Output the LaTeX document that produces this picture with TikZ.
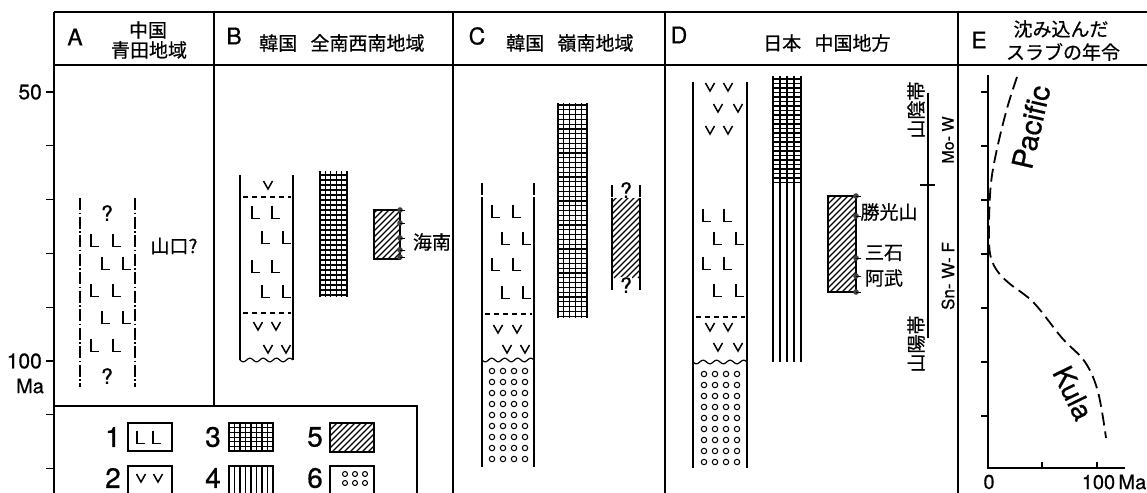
\documentclass[tikz,border=0pt]{standalone}
\usepackage{fontspec}
\setmainfont{TeX Gyre Heros}[FakeBold=0.6]
\newfontfamily\jp{Noto Sans CJK JP}[FakeBold=0.6]
\tikzset{
  frameline/.style={line width=1.5pt},
  colline/.style={line width=1.2pt},
  gridl/.style={line width=1.15pt},
  ddot/.style={line width=1.2pt, dash pattern=on 12pt off 2.5pt on 1.5pt off 2.5pt},
  dsh/.style={line width=1.1pt, dash pattern=on 5pt off 4pt},
  hatchl/.style={line width=1.1pt},
  curve/.style={line width=1.8pt, dash pattern=on 13pt off 6pt},
  jlbl/.style={inner sep=0pt, font=\fontsize{19}{19}\selectfont\jp},
  lat/.style={inner sep=0pt, font=\fontsize{21}{21}\selectfont},
  big/.style={inner sep=0pt, font=\fontsize{28}{28}\selectfont},
  Lsym/.pic={\draw[line width=1.6pt] (-4,-6.5) -- (-4,6.5) -- (4,6.5);},
  vsym/.pic={\draw[line width=1.5pt] (-4.5,-4) -- (0,4) -- (4.5,-4);},
}
\newcommand\hatchrect[4]{%
  \begin{scope}
    \clip (#1,#2) rectangle (#3,#4);
    \foreach \k in {-130,-124,...,60} \draw[hatchl] (#1+\k,#4) -- ++(160,-160);
  \end{scope}}
\newcommand\pinmark[2]{\fill[black!75] (#1,#2) circle (2.8); \draw[line width=1pt] (#1,#2) -- ++(5,0);}

\begin{document}
\begin{tikzpicture}[x=1pt,y=-1pt]
\clip (0,0) rectangle (1147,492);
\fill[white] (0,0) rectangle (1147,492);

% ---------- frame ----------
\draw[frameline] (54,12) -- (1147,12);
\draw[frameline] (54,65) -- (1147,65);
\draw[frameline] (54,12) -- (54,495);
\draw[frameline] (214,12) -- (214,406);
\draw[frameline] (453,12) -- (453,495);
\draw[frameline] (665,12) -- (665,495);
\draw[frameline] (958,12) -- (958,495);

% axis ticks
\foreach \t in {92,145.8,199.6,253.4,307.2,361,414.8,468.6} \draw[colline] (46,\t) -- (54,\t);
\node[lat, anchor=east] (t50) at (42,92) {50};
\node[lat, anchor=east] (t100) at (42,361) {100};
\node[lat, font=\fontsize{20}{20}\selectfont] (tma) at (30,386) {Ma};

% ---------- headers ----------
\node[lat, font=\fontsize{23}{23}\selectfont] (hA) at (75,37) {A};
\node[jlbl] (hA1) at (148,30) {中国};
\node[jlbl] (hA2) at (149,50) {青田地域};
\node[lat, font=\fontsize{23}{23}\selectfont] (hB) at (234,36) {B};
\node[jlbl, anchor=west] (hB1) at (259,43) {韓国\hspace{0.7em}全南西南地域};
\node[lat, font=\fontsize{23}{23}\selectfont] (hC) at (477,36) {C};
\node[jlbl, anchor=west] (hC1) at (506,43) {韓国\hspace{0.7em}嶺南地域};
\node[lat, font=\fontsize{23}{23}\selectfont] (hD) at (679,35) {D};
\node[jlbl, anchor=west] (hD1) at (763,43) {日本\hspace{0.7em}中国地方};
\node[lat, font=\fontsize{23}{23}\selectfont] (hE) at (979,40) {E};
\node[jlbl] (hE1) at (1061,29) {沈み込んだ};
\node[jlbl] (hE2) at (1063,52) {スラブの年令};

% ---------- column A ----------
\draw[ddot] (80,198) -- (80,387);
\draw[ddot] (135,198) -- (135,387);
\node[lat] (qa1) at (107,213) {?};
\node[lat] (qa2) at (107,376) {?};
\foreach \y in {240,290,345} {\pic at (95,\y) {Lsym}; \pic at (117,\y) {Lsym};}
\foreach \y in {263,317} {\pic at (106,\y) {Lsym}; \pic at (127,\y) {Lsym};}
\node[jlbl] (yamaguchi) at (174,246) {山口?};

% ---------- column B ----------
\draw[colline] (240,175) -- (240,360);
\draw[colline] (293,175) -- (293,360);
\draw[colline] plot[domain=0:1, samples=60] ({240+53*\x},{360+1.8*sin(\x*4*360)});
\pic at (268,185) {vsym};
\draw[dsh] (243,197) -- (291,197);
\foreach \y in {212,266} {\pic at (256,\y) {Lsym}; \pic at (276,\y) {Lsym};}
\foreach \y in {237,291} {\pic at (266,\y) {Lsym}; \pic at (287,\y) {Lsym};}
\draw[dsh] (243,313) -- (291,313);
\pic at (258,326) {vsym}; \pic at (276,326) {vsym};
\pic at (268,349) {vsym}; \pic at (286,349) {vsym};
% grid B
\foreach \i in {0,...,5} \draw[gridl] (320+\i*5.4,171) -- (320+\i*5.4,297);
\foreach \y in {175,180,...,297} \draw[gridl] (320,\y) -- (347,\y);
% hatched B
\hatchrect{374}{210}{400}{259}
\draw[colline] (374,210) rectangle (400,259);
\pinmark{400}{210}\pinmark{400}{223}\pinmark{400}{238}\pinmark{400}{250}\pinmark{400}{257}
\node[jlbl] (hainan) at (432,242) {海南};

% ---------- column C ----------
\draw[ddot] (482,183) -- (482,198);
\draw[ddot] (534,183) -- (534,198);
\draw[colline] (482,197) -- (482,467);
\draw[colline] (534,197) -- (534,467);
\foreach \y in {211,264} {\pic at (496,\y) {Lsym}; \pic at (517,\y) {Lsym};}
\foreach \y in {238,292} {\pic at (506,\y) {Lsym}; \pic at (527,\y) {Lsym};}
\draw[dsh] (485,314) -- (532,314);
\pic at (498,329) {vsym}; \pic at (517,329) {vsym};
\pic at (507,349) {vsym}; \pic at (525,349) {vsym};
\draw[colline] plot[domain=0:1, samples=60] ({482+52*\x},{360+1.8*sin(\x*4*360)});
\foreach \x in {492,503,514,525} \foreach \y in {371,382,...,460} \draw[line width=1.05pt] (\x,\y) circle (2.7);
% grid C
\foreach \i in {0,...,5} \draw[gridl] (558+\i*5.8,103) -- (558+\i*5.8,318);
\foreach \y in {105,109.8,...,318} \draw[gridl] (558,\y) -- (587,\y);
% hatched C
\hatchrect{612}{198}{640}{278}
\draw[colline] (612,198) -- (612,278);
\draw[colline] (640,198) -- (640,278);
\draw[ddot] (612,185) -- (612,198); \draw[ddot] (640,185) -- (640,198);
\draw[ddot] (612,278) -- (612,291); \draw[ddot] (640,278) -- (640,291);
\node[lat, fill=white, inner sep=0.5pt] (qc1) at (626,190) {?};
\node[lat, fill=white, inner sep=0.5pt] (qc2) at (626,285) {?};

% ---------- column D ----------
\draw[colline] (693,82) -- (693,468);
\draw[colline] (747,82) -- (747,468);
\foreach \y in {87,130} {\pic at (710,\y) {vsym}; \pic at (728,\y) {vsym};}
\pic at (718,108) {vsym}; \pic at (738,108) {vsym};
\foreach \y in {215,263} {\pic at (707,\y) {Lsym}; \pic at (728,\y) {Lsym};}
\foreach \y in {238,290} {\pic at (718,\y) {Lsym}; \pic at (740,\y) {Lsym};}
\draw[dsh] (696,317) -- (745,317);
\pic at (710,327) {vsym}; \pic at (728,327) {vsym};
\pic at (718,347) {vsym}; \pic at (738,347) {vsym};
\draw[colline] plot[domain=0:1, samples=60] ({693+54*\x},{362+1.8*sin(\x*4*360)});
\foreach \x in {704,715,726,737} \foreach \y in {374,385,...,463} \draw[line width=1.05pt] (\x,\y) circle (2.7);
% grid / lines D
\foreach \i in {0,...,4} \draw[gridl] (773+\i*7,76) -- (773+\i*7,362);
\foreach \y in {79,83.5,...,186} \draw[gridl] (773,\y) -- (801,\y);
% hatched D
\hatchrect{828}{196}{856}{292}
\draw[colline] (828,196) rectangle (856,292);
\pinmark{856}{196}\pinmark{856}{216}\pinmark{856}{258}\pinmark{856}{276}\pinmark{856}{292}
\node[jlbl] (katsu) at (889,212) {勝光山};
\node[jlbl] (mitsu) at (884,253) {三石};
\node[jlbl] (abu) at (884,278) {阿武};
% belts
\draw[colline] (928,93) -- (928,338);
\draw[colline] (920,185) -- (935,185);
\node[jlbl, rotate=90] (sanin) at (916,110) {山陰帯};
\node[jlbl, rotate=90] (sanyo) at (916,344) {山陽帯};
\node[lat, rotate=90, font=\fontsize{16}{16}\selectfont] (mow) at (948,140) {Mo- W};
\node[lat, rotate=90, font=\fontsize{17}{17}\selectfont] (snwf) at (948,276) {Sn- W- F};

% ---------- column E ----------
\draw[colline] (988,75) -- (988,468) -- (1125,468);
\foreach \t in {92,146,200,254,308,362,416} \draw[colline] (981,\t) -- (988,\t);
\draw[colline] (1042,468) -- (1042,462);
\draw[colline] (1097,468) -- (1097,462);
\node[lat, font=\fontsize{20}{20}\selectfont] (e0) at (989,482) {0};
\node[lat, font=\fontsize{20}{20}\selectfont] (e100) at (1114,482) {100\,Ma};
\draw[curve] plot[smooth, tension=0.6] coordinates {(1017,77) (1008,105) (999,140) (992,175) (989.5,205) (989,240) (991,258) (998,272) (1010,284) (1034,303) (1062,338) (1085,362) (1098,392) (1106,438)};
\node[lat, rotate=77, font=\fontsize{29}{29}\selectfont] (pac) at (1031,127) {Pacific};
\node[lat, rotate=-64, font=\fontsize{28}{28}\selectfont] (kula) at (1073,393) {Kula};

% ---------- legend ----------
\draw[frameline, fill=white] (54,406) rectangle (417,500);
\node[big] (n1) at (113,437) {1};
\draw[colline] (128,423) rectangle (172,451);
\pic at (141,437) {Lsym}; \pic at (157,437) {Lsym};
\node[big] (n3) at (213,437) {3};
\draw[colline] (229,423) rectangle (273,451);
\foreach \i in {1,...,7} \draw[gridl] (229+\i*5.5,423) -- (229+\i*5.5,451);
\foreach \y in {427.7,432.4,...,450} \draw[gridl] (229,\y) -- (273,\y);
\node[big] (n5) at (315,437) {5};
\hatchrect{330}{423}{374}{452}
\draw[colline] (330,423) rectangle (374,452);
\node[big] (n2) at (113,478) {2};
\draw[colline] (128,466) rectangle (172,500);
\pic at (141,478) {vsym}; \pic at (158,478) {vsym};
\node[big] (n4) at (213,478) {4};
\draw[colline] (229,466) rectangle (273,500);
\foreach \i in {1,...,7} \draw[gridl] (229+\i*5.5,466) -- (229+\i*5.5,500);
\node[big] (n6) at (315,478) {6};
\draw[colline] (330,466) rectangle (374,500);
\foreach \x in {345,355,365} \foreach \y in {474,483} \draw[line width=1.05pt] (\x,\y) circle (2.5);
\end{tikzpicture}
\end{document}
